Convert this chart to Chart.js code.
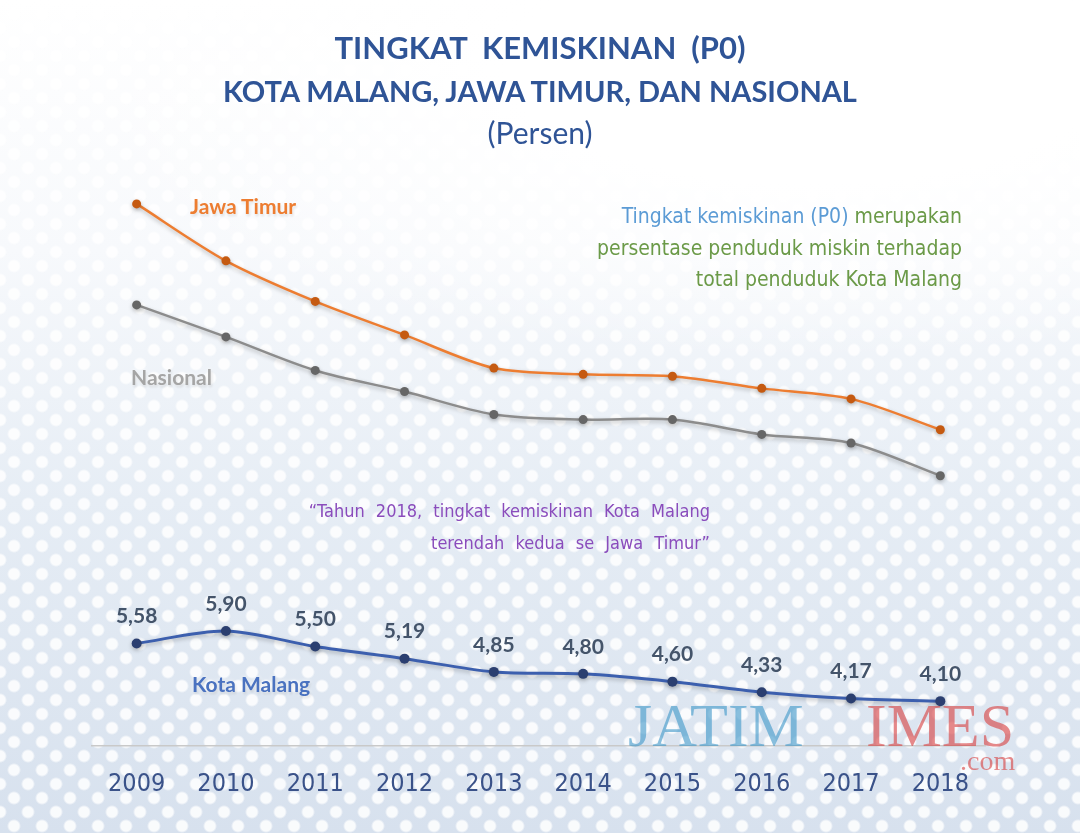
<!DOCTYPE html>
<html>
<head>
<meta charset="utf-8">
<script src="https://cdn.jsdelivr.net/npm/chart.js@4"></script>
<style>
  html, body { margin: 0; padding: 0; }
  body {
    width: 1080px; height: 833px; position: relative; overflow: hidden;
    background:
      radial-gradient(ellipse 70% 35% at 75% 8%, rgba(255,255,255,1) 40%, rgba(255,255,255,0) 100%),
      radial-gradient(circle, rgba(255,255,255,0.85) 0 5px, rgba(255,255,255,0) 7px) 0 0 / 28px 28px,
      radial-gradient(circle, rgba(255,255,255,0.85) 0 5px, rgba(255,255,255,0) 7px) 14px 14px / 28px 28px,
      linear-gradient(#ffffff 0%, #f7f9fc 30%, #e6edf5 60%, #d7e1ee 100%);
    font-family: Lato, "Open Sans", sans-serif;
  }
  #wrap { position: absolute; left: 0; top: 0; width: 1080px; height: 833px; }
  .t { position: absolute; white-space: nowrap; }
  .title { left: 0; width: 1080px; text-align: center; color: #2f5496; }
  .note { right: 118px; text-align: right; font-family: "DejaVu Sans Condensed", sans-serif; font-size: 21px; color: #6b9a48; }
  .quote { right: 370px; text-align: right; font-family: "DejaVu Sans Condensed", sans-serif; font-size: 18px; color: #8a4cbc; word-spacing: 6px; }
  .lbl { font-weight: bold; font-size: 21px; text-shadow: 0 0 4px rgba(255,255,255,0.9), 1px 2px 3px rgba(0,0,0,0.15); }
  .wm { font-family: "Liberation Serif", serif; font-size: 62px; }
</style>
</head>
<body>
<div id="wrap"><canvas id="povertyChart"></canvas></div>

<div class="t title" style="top:28px;font-size:31px;font-weight:bold;">TINGKAT&nbsp; KEMISKINAN&nbsp; (P0)</div>
<div class="t title" style="top:73px;font-size:29px;font-weight:bold;">KOTA MALANG, JAWA TIMUR, DAN NASIONAL</div>
<div class="t title" style="top:114px;font-size:30px;">(Persen)</div>

<div class="t note" style="top:204px;"><span style="color:#5b9bd5;">Tingkat kemiskinan (P0)</span> merupakan</div>
<div class="t note" style="top:236px;">persentase penduduk miskin terhadap</div>
<div class="t note" style="top:267px;">total penduduk Kota Malang</div>

<div class="t quote" style="top:500px;">“Tahun 2018, tingkat kemiskinan Kota Malang</div>
<div class="t quote" style="top:532px;">terendah kedua se Jawa Timur”</div>

<div class="t lbl" style="left:190px;top:193px;color:#ed7d31;">Jawa Timur</div>
<div class="t lbl" style="left:131px;top:364px;color:#a5a5a5;">Nasional</div>
<div class="t lbl" style="left:192px;top:671px;color:#4a72c0;">Kota Malang</div>

<div class="t wm" style="left:628px;top:690px;color:rgba(60,150,200,0.6);">JATIM</div>
<div class="t wm" style="left:866px;top:690px;color:rgba(215,60,60,0.6);">IMES</div>
<div class="t wm" style="left:960px;top:745px;font-size:28px;color:rgba(215,60,60,0.6);">.com</div>

<script>
const years = ["2009", "2010", "2011", "2012", "2013", "2014", "2015", "2016", "2017", "2018"];
const jawaTimur = [16.85, 15.39, 14.35, 13.49, 12.64, 12.48, 12.43, 12.12, 11.85, 11.06];
const nasional = [14.26, 13.44, 12.58, 12.04, 11.45, 11.32, 11.32, 10.94, 10.72, 9.88];
const kotaMalang = [5.58, 5.90, 5.50, 5.19, 4.85, 4.80, 4.60, 4.33, 4.17, 4.10];

// bayangan tipis di bawah garis
const lineShadow = {
  id: "lineShadow",
  beforeDatasetsDraw(chart) {
    const ctx = chart.ctx;
    ctx.save();
    ctx.shadowColor = "rgba(0,0,0,0.25)";
    ctx.shadowBlur = 4;
    ctx.shadowOffsetY = 2;
  },
  afterDatasetsDraw(chart) {
    chart.ctx.restore();
  }
};

// label nilai untuk Kota Malang
const valueLabels = {
  id: "valueLabels",
  afterDatasetsDraw(chart) {
    const ctx = chart.ctx;
    const meta = chart.getDatasetMeta(2);
    ctx.save();
    ctx.font = "bold 21px Lato, 'Open Sans', sans-serif";
    ctx.fillStyle = "#44546a";
    ctx.textAlign = "center";
    ctx.textBaseline = "middle";
    meta.data.forEach((pt, i) => {
      const txt = kotaMalang[i].toFixed(2).replace(".", ",");
      ctx.fillText(txt, pt.x, pt.y - 27);
    });
    ctx.restore();
  }
};

const ctx = document.getElementById("povertyChart").getContext("2d");
new Chart(ctx, {
  type: "line",
  data: {
    labels: years,
    datasets: [
      {
        label: "Jawa Timur",
        data: jawaTimur,
        borderColor: "#ed7d31",
        backgroundColor: "#c55a11",
        borderWidth: 2.5,
        pointRadius: 4.5,
        pointBorderWidth: 0,
        tension: 0.3
      },
      {
        label: "Nasional",
        data: nasional,
        borderColor: "#8c8c8c",
        backgroundColor: "#666666",
        borderWidth: 2.5,
        pointRadius: 4.5,
        pointBorderWidth: 0,
        tension: 0.3
      },
      {
        label: "Kota Malang",
        data: kotaMalang,
        borderColor: "#3c5fae",
        backgroundColor: "#2b3f70",
        borderWidth: 3,
        pointRadius: 5,
        pointBorderWidth: 0,
        tension: 0.3
      }
    ]
  },
  options: {
    responsive: true,
    maintainAspectRatio: false,
    animation: false,
    layout: { padding: { top: 161, left: 92, right: 95, bottom: 19 } },
    plugins: { legend: { display: false }, tooltip: { enabled: false } },
    scales: {
      x: {
        offset: true,
        grid: { display: false },
        border: { display: true, color: "#c9c9c9", width: 1.5 },
        ticks: {
          color: "#3a5289",
          padding: 15,
          font: { family: "'DejaVu Sans Condensed', sans-serif", size: 25 }
        }
      },
      y: { display: false, min: 2.95, max: 17.95 }
    }
  },
  plugins: [lineShadow, valueLabels]
});
</script>
</body>
</html>
